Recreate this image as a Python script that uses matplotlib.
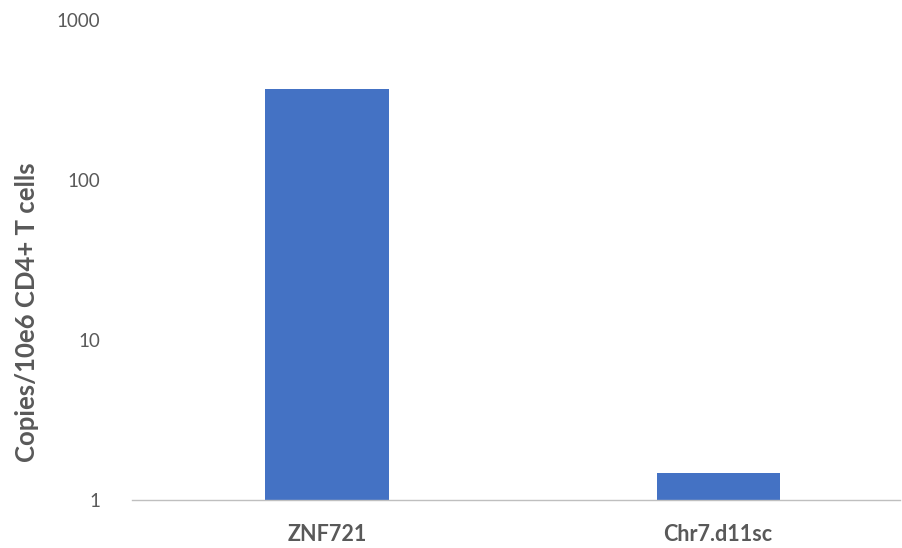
import matplotlib
matplotlib.use("Agg")
import matplotlib.pyplot as plt

categories = ["ZNF721", "Chr7.d11sc"]
copies = [370, 1.47]
y_ticks = [1, 10, 100, 1000]
y_tick_labels = ["1", "10", "100", "1000"]

bar_color = "#4472C4"
text_color = "#595959"

plt.rcParams["font.family"] = ["Lato", "DejaVu Sans"]

fig = plt.figure(figsize=(9.02, 5.48), dpi=100)
W, H = 902, 548
left, right, top, bottom = 132, 900, 20, 500
ax = fig.add_axes([left / W, 1 - bottom / H, (right - left) / W, (bottom - top) / H])

x = list(range(len(categories)))
ax.bar(x, copies, width=0.315, color=bar_color, zorder=2)

ax.set_yscale("log")
ax.set_ylim(1, 1000)
ax.set_xlim(-0.4987, 1.465)
ax.set_yticks(y_ticks)
ax.set_yticklabels(y_tick_labels)
ax.minorticks_off()
ax.set_xticks(x)
ax.set_xticklabels(categories, fontweight="bold")

for s in ["top", "right", "left"]:
    ax.spines[s].set_visible(False)
ax.spines["bottom"].set_color("#BFBFBF")
ax.spines["bottom"].set_linewidth(1.0)

ax.tick_params(axis="y", length=0, pad=23, labelsize=13.5, labelcolor=text_color)
ax.tick_params(axis="x", length=0, pad=17, labelsize=15.5, labelcolor=text_color)

# axis title, centred a little below the middle of the plot
fig.text(27 / W, 1 - 312 / H, "Copies/10e6 CD4+ T cells", rotation=90,
         ha="center", va="center", fontsize=18.5, fontweight="bold", color=text_color)

fig.savefig("out.png", dpi=100)
